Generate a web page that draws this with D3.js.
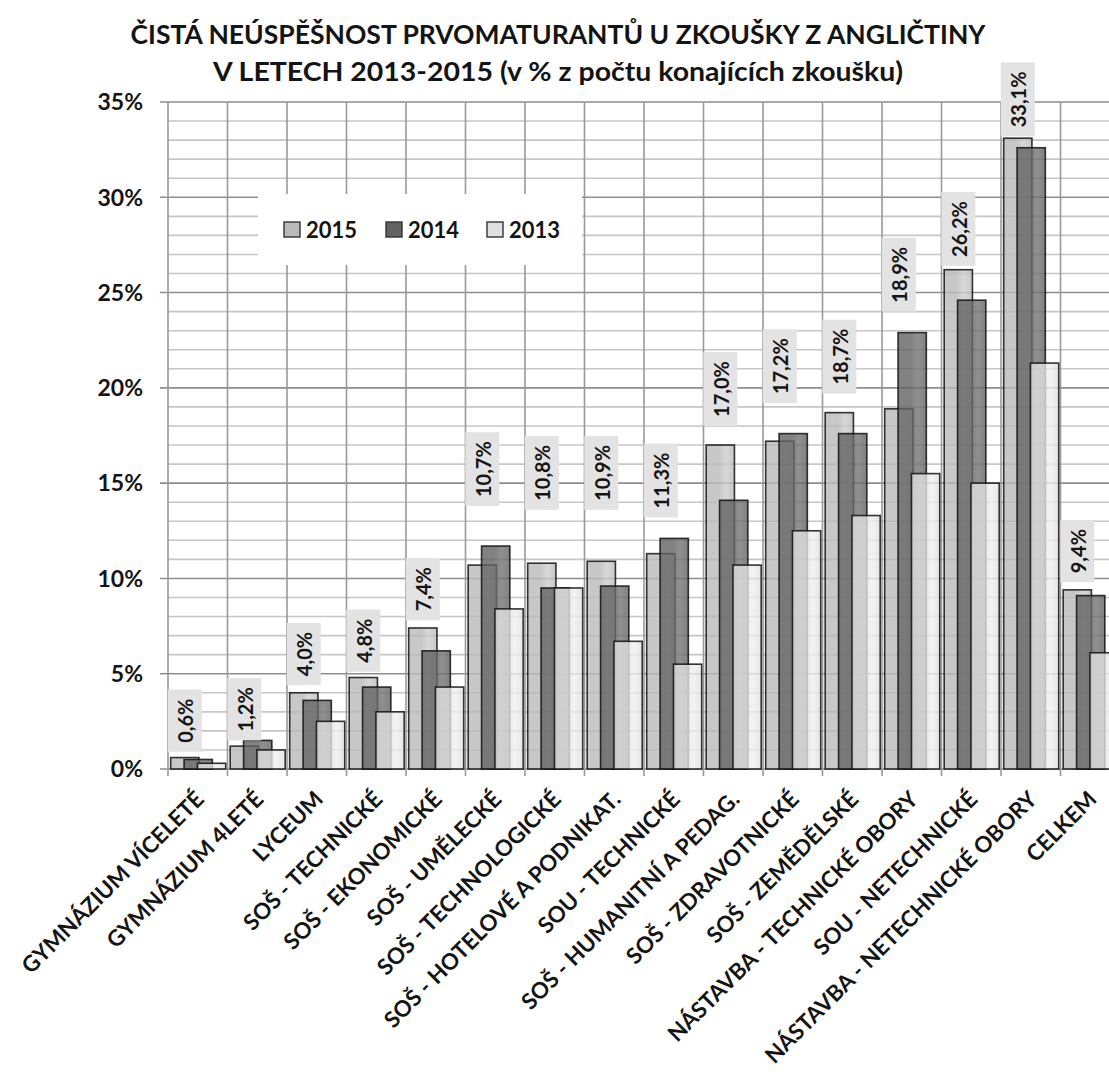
<!DOCTYPE html>
<html><head><meta charset="utf-8">
<script src="https://cdn.jsdelivr.net/npm/d3@7"></script>
<style>
html,body{margin:0;padding:0;background:#fff;}
svg{display:block;}
text{font-family:"Lato","Open Sans",sans-serif;font-weight:bold;fill:#141414;}
</style></head>
<body>
<svg id="chart" width="1109" height="1075"></svg>
<script>
const categories = ["GYMNÁZIUM VÍCELETÉ","GYMNÁZIUM 4LETÉ","LYCEUM","SOŠ - TECHNICKÉ","SOŠ - EKONOMICKÉ","SOŠ - UMĚLECKÉ","SOŠ - TECHNOLOGICKÉ","SOŠ - HOTELOVÉ A PODNIKAT.","SOU - TECHNICKÉ","SOŠ - HUMANITNÍ A PEDAG.","SOŠ - ZDRAVOTNICKÉ","SOŠ - ZEMĚDĚLSKÉ","NÁSTAVBA - TECHNICKÉ OBORY","SOU - NETECHNICKÉ","NÁSTAVBA - NETECHNICKÉ OBORY","CELKEM"];
const seriesNames = ["2015","2014","2013"];
const values2015 = [0.6,1.2,4.0,4.8,7.4,10.7,10.8,10.9,11.3,17.0,17.2,18.7,18.9,26.2,33.1,9.4];
const values2014 = [0.5,1.5,3.6,4.3,6.2,11.7,9.5,9.6,12.1,14.1,17.6,17.6,22.9,24.6,32.6,9.1];
const values2013 = [0.3,1.0,2.5,3.0,4.3,8.4,9.5,6.7,5.5,10.7,12.5,13.3,15.5,15.0,21.3,6.1];
// level (in %) at which each 2015 data-label box sits
const labelLevel2015 = [0.9,1.5,4.4,5.1,7.8,13.8,13.6,13.6,13.2,18.0,19.2,19.7,24.0,26.4,33.2,9.8];
const yTicks = [0,5,10,15,20,25,30,35];
const titleLines = ["ČISTÁ NEÚSPĚŠNOST PRVOMATURANTŮ U ZKOUŠKY Z ANGLIČTINY","V LETECH 2013-2015 (v % z počtu konajících zkoušku)"];

const seriesValues = [values2015, values2014, values2013];
const fills = ["#bababa","#626262","#e0e0e0"];
const fillsLight = ["#cecece","#747474","#f0f0f0"];

const svg = d3.select("#chart");
svg.append("rect").attr("width",1109).attr("height",1075).attr("fill","#fff");

const pLeft = 168, pRight = 1120, pTop = 102, pBottom = 769;
const x = d3.scaleBand().domain(categories).range([pLeft,pRight]).padding(0);
const y = d3.scaleLinear().domain([0,35]).range([pBottom,pTop]);
const bw = x.bandwidth();
const barW = bw*0.475;
const off = i => bw*(0.045 + i*0.225);

const defs = svg.append("defs");
fills.forEach((f,i)=>{
  const g = defs.append("linearGradient").attr("id","g"+i).attr("x1",0).attr("x2",1).attr("y1",0).attr("y2",0);
  g.append("stop").attr("offset","0%").attr("stop-color",f);
  g.append("stop").attr("offset","45%").attr("stop-color",f);
  g.append("stop").attr("offset","70%").attr("stop-color",fillsLight[i]);
  g.append("stop").attr("offset","100%").attr("stop-color",f);
});

// gridlines
const grid = svg.append("g");
const minor = d3.range(0,36,1).filter(v=>v%5!==0);
grid.selectAll(".mi").data(minor).join("line")
  .attr("x1",pLeft).attr("x2",pRight).attr("y1",d=>y(d)).attr("y2",d=>y(d))
  .attr("stroke","#c6c6c6").attr("stroke-width",1.6);
grid.selectAll(".ma").data(yTicks).join("line")
  .attr("x1",pLeft-8).attr("x2",pRight).attr("y1",d=>y(d)).attr("y2",d=>y(d))
  .attr("stroke","#8e8e8e").attr("stroke-width",1.6);
const bounds = categories.map(c=>x(c)).concat([pRight]);
grid.selectAll(".v").data(bounds).join("line")
  .attr("x1",d=>d).attr("x2",d=>d).attr("y1",pTop).attr("y2",pBottom+7)
  .attr("stroke","#999").attr("stroke-width",1.6);

// legend background (covers gridlines)
const legend = svg.append("g");
legend.append("rect").attr("x",258).attr("y",194).attr("width",324).attr("height",71).attr("fill","#fff");
const legX = [284,386,487];
seriesNames.forEach((s,i)=>{
  legend.append("rect").attr("x",legX[i]).attr("y",222).attr("width",16).attr("height",15)
    .attr("fill",fills[i]).attr("stroke","#333").attr("stroke-width",1.4);
  legend.append("text").attr("x",legX[i]+22).attr("y",237.5).attr("font-size",22).text(s);
});

// bars
const barsG = svg.append("g");
seriesValues.forEach((vals,i)=>{
  barsG.append("g").selectAll("rect").data(vals).join("rect")
    .attr("x",(d,j)=>x(categories[j])+off(i))
    .attr("y",d=>y(d))
    .attr("width",barW)
    .attr("height",d=>pBottom-y(d))
    .attr("fill","url(#g"+i+")").attr("fill-opacity",0.8)
    .attr("stroke","#111").attr("stroke-width",1.6).attr("stroke-opacity",0.85);
});

// y axis labels
svg.append("g").selectAll("text").data(yTicks).join("text")
  .attr("x",143).attr("y",d=>y(d)).attr("dy","0.36em")
  .attr("text-anchor","end").attr("font-size",23).text(d=>d+"%");

// data labels for 2015
const fmt = v => d3.format(".1f")(v).replace(".",",")+"%";
const lab = svg.append("g");
values2015.forEach((v,j)=>{
  const cx = x(categories[j])+off(0)+barW/2;
  const yb = y(labelLevel2015[j]);
  const g = lab.append("g");
  const r = g.append("rect").attr("fill","#e3e3e3");
  const t = g.append("text").attr("font-size",20).attr("text-anchor","middle")
    .attr("transform",`translate(${cx+1},0) rotate(-90)`).attr("dy","0.36em").text(fmt(v));
  const len = t.node().getComputedTextLength();
  const h = len+18;
  r.attr("x",cx-17).attr("width",34).attr("y",yb-h).attr("height",h);
  t.attr("transform",`translate(${cx+1},${yb-h/2}) rotate(-90)`);
});

// category labels
svg.append("g").selectAll("text").data(categories).join("text")
  .attr("font-size",22.3).attr("text-anchor","end")
  .attr("transform",d=>`translate(${x(d)+bw/2+2},${pBottom+26}) rotate(-45)`)
  .attr("dy","0.36em").text(d=>d);

// title
const titleW = [855, 690];
svg.append("g").selectAll("text").data(titleLines).join("text")
  .attr("x",558).attr("y",(d,i)=>i===0?44:81).attr("text-anchor","middle")
  .attr("font-size",(d,i)=>i===0?26.5:27.5)
  .attr("textLength",(d,i)=>titleW[i]).attr("lengthAdjust","spacingAndGlyphs")
  .text(d=>d);
</script>
</body></html>
